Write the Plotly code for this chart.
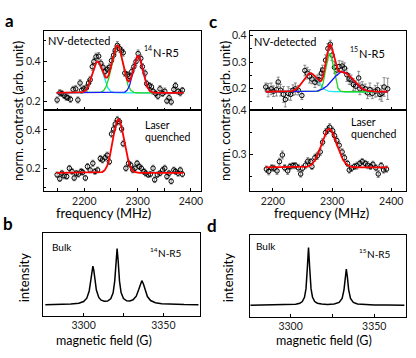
import numpy as np
import plotly.graph_objects as go

# ---------------- panel a : 14N-R5 ----------------
a_nv_freq = [2149, 2154, 2158, 2162, 2166, 2169, 2174, 2179, 2184, 2188,
             2192, 2195, 2199, 2204, 2208, 2211, 2215, 2218, 2222, 2227,
             2231, 2235, 2239, 2243, 2247, 2251, 2255, 2258, 2262, 2266,
             2270, 2273, 2276, 2281, 2284, 2289, 2293, 2297, 2301, 2306,
             2309, 2314, 2317, 2322, 2326, 2329, 2334, 2338, 2342, 2347,
             2351, 2355, 2359, 2363, 2368, 2371, 2376, 2380, 2384]
a_nv_val = [0.207, 0.242, 0.239, 0.229, 0.221, 0.218, 0.210, 0.259, 0.262, 0.207,
            0.291, 0.255, 0.262, 0.267, 0.291, 0.307, 0.372, 0.397, 0.421, 0.424,
            0.389, 0.369, 0.348, 0.359, 0.369, 0.402, 0.429, 0.454, 0.478, 0.462,
            0.450, 0.441, 0.340, 0.332, 0.324, 0.348, 0.372, 0.397, 0.437, 0.413,
            0.372, 0.340, 0.288, 0.278, 0.272, 0.250, 0.239, 0.226, 0.262, 0.239,
            0.250, 0.202, 0.218, 0.197, 0.259, 0.278, 0.250, 0.242, 0.255]
a_nv_err = [0.015, 0.016, 0.014, 0.015, 0.016, 0.014, 0.015, 0.016, 0.017, 0.015,
            0.016, 0.015, 0.016, 0.017, 0.016, 0.017, 0.018, 0.017, 0.018, 0.018,
            0.017, 0.016, 0.017, 0.016, 0.017, 0.018, 0.018, 0.019, 0.019, 0.018,
            0.018, 0.017, 0.016, 0.016, 0.016, 0.017, 0.017, 0.018, 0.018, 0.017,
            0.016, 0.016, 0.016, 0.015, 0.015, 0.015, 0.016, 0.015, 0.016, 0.015,
            0.016, 0.014, 0.015, 0.015, 0.016, 0.016, 0.015, 0.015, 0.014]

a_lq_freq = [2149, 2154, 2158, 2162, 2167, 2172, 2177, 2181, 2185, 2189,
             2194, 2197, 2202, 2206, 2211, 2216, 2220, 2225, 2230, 2234,
             2239, 2243, 2247, 2251, 2255, 2258, 2262, 2266, 2270, 2273,
             2278, 2283, 2287, 2291, 2295, 2299, 2303, 2307, 2312, 2315,
             2320, 2324, 2329, 2332, 2337, 2342, 2347, 2351, 2355, 2359,
             2363, 2368, 2371, 2376, 2380, 2384]
a_lq_val = [0.166, 0.145, 0.174, 0.161, 0.157, 0.200, 0.183, 0.149, 0.174, 0.169,
            0.183, 0.179, 0.149, 0.209, 0.191, 0.226, 0.183, 0.191, 0.251, 0.243,
            0.255, 0.268, 0.234, 0.379, 0.405, 0.431, 0.453, 0.443, 0.405, 0.328,
            0.200, 0.226, 0.217, 0.191, 0.200, 0.226, 0.209, 0.200, 0.183, 0.174,
            0.166, 0.169, 0.200, 0.140, 0.166, 0.174, 0.191, 0.200, 0.157, 0.174,
            0.132, 0.191, 0.183, 0.174, 0.191, 0.169]
a_lq_err = [0.015, 0.014, 0.015, 0.016, 0.014, 0.015, 0.016, 0.014, 0.015, 0.015,
            0.016, 0.015, 0.014, 0.016, 0.015, 0.016, 0.015, 0.015, 0.016, 0.015,
            0.016, 0.016, 0.015, 0.017, 0.017, 0.018, 0.018, 0.017, 0.017, 0.016,
            0.015, 0.016, 0.015, 0.015, 0.016, 0.015, 0.015, 0.016, 0.015, 0.015,
            0.014, 0.015, 0.016, 0.015, 0.015, 0.014, 0.015, 0.016, 0.015, 0.015,
            0.014, 0.015, 0.015, 0.016, 0.015, 0.014]

# Gaussian fit parameters
a_nv_fit_offset = 0.242
a_nv_fit_center = [2225, 2262, 2301]
a_nv_fit_amp = [0.155, 0.236, 0.184]
a_nv_fit_sigma = [10.0, 10.5, 9.0]
a_lq_fit_offset = 0.176
a_lq_fit_center = [2264]
a_lq_fit_amp = [0.280]
a_lq_fit_sigma = [10.5]
a_fit_span = [2148, 2386]

# ---------------- panel c : 15N-R5 ----------------
c_nv_freq = [2188, 2192, 2197, 2201, 2206, 2209, 2213, 2218, 2221, 2226,
             2230, 2234, 2238, 2243, 2249, 2254, 2258, 2262, 2266, 2271,
             2275, 2278, 2282, 2284, 2289, 2293, 2297, 2300, 2304, 2308,
             2312, 2317, 2321, 2325, 2329, 2332, 2336, 2340, 2345, 2347,
             2351, 2356, 2360, 2364, 2368, 2373, 2377, 2381, 2384, 2388,
             2394]
c_nv_val = [0.206, 0.194, 0.199, 0.190, 0.196, 0.225, 0.194, 0.178, 0.159, 0.182,
            0.178, 0.194, 0.199, 0.194, 0.174, 0.268, 0.258, 0.246, 0.236, 0.224,
            0.233, 0.233, 0.258, 0.270, 0.307, 0.351, 0.367, 0.326, 0.280, 0.270,
            0.283, 0.285, 0.277, 0.252, 0.236, 0.233, 0.215, 0.209, 0.240, 0.199,
            0.206, 0.199, 0.184, 0.196, 0.182, 0.190, 0.196, 0.178, 0.182, 0.206,
            0.199]
c_nv_err = [0.015, 0.025, 0.022, 0.020, 0.024, 0.018, 0.022, 0.030, 0.028, 0.025,
            0.022, 0.020, 0.022, 0.018, 0.015, 0.020, 0.022, 0.025, 0.018, 0.020,
            0.018, 0.022, 0.020, 0.018, 0.020, 0.018, 0.015, 0.020, 0.022, 0.020,
            0.022, 0.018, 0.020, 0.025, 0.020, 0.018, 0.022, 0.020, 0.025, 0.022,
            0.020, 0.018, 0.022, 0.025, 0.020, 0.022, 0.025, 0.020, 0.030, 0.035,
            0.040]

c_lq_freq = [2189, 2193, 2198, 2202, 2207, 2211, 2216, 2220, 2225, 2229,
             2234, 2238, 2243, 2247, 2250, 2255, 2259, 2264, 2266, 2271,
             2275, 2280, 2284, 2289, 2293, 2296, 2301, 2304, 2308, 2312,
             2317, 2321, 2326, 2329, 2333, 2338, 2342, 2347, 2351, 2356,
             2360, 2365, 2369, 2374, 2378, 2383, 2387, 2392]
c_lq_val = [0.267, 0.262, 0.270, 0.269, 0.263, 0.284, 0.299, 0.270, 0.263, 0.273,
            0.275, 0.275, 0.270, 0.256, 0.269, 0.276, 0.285, 0.284, 0.273, 0.293,
            0.297, 0.306, 0.328, 0.350, 0.356, 0.362, 0.354, 0.343, 0.332, 0.321,
            0.306, 0.293, 0.280, 0.265, 0.269, 0.273, 0.275, 0.280, 0.284, 0.280,
            0.276, 0.273, 0.278, 0.270, 0.256, 0.275, 0.265, 0.267]
c_lq_err = [0.007, 0.008, 0.007, 0.007, 0.008, 0.008, 0.009, 0.007, 0.008, 0.007,
            0.007, 0.007, 0.008, 0.007, 0.007, 0.008, 0.008, 0.007, 0.007, 0.008,
            0.008, 0.008, 0.008, 0.008, 0.008, 0.008, 0.008, 0.008, 0.008, 0.008,
            0.007, 0.007, 0.007, 0.007, 0.007, 0.007, 0.008, 0.007, 0.007, 0.007,
            0.008, 0.007, 0.007, 0.007, 0.008, 0.007, 0.007, 0.007]

c_nv_fit_offset = 0.188
c_nv_fit_center = [2263, 2296, 2318]
c_nv_fit_amp = [0.070, 0.144, 0.075]
c_nv_fit_sigma = [12.0, 6.5, 17.0]
c_lq_fit_offset = 0.271
c_lq_fit_center = [2295]
c_lq_fit_amp = [0.087]
c_lq_fit_sigma = [13.0]
c_fit_span = [2188, 2394]

# ---------------- panels b, d : bulk spectra ----------------
b_field = [3276, 3285, 3292, 3297, 3300, 3302, 3303.5, 3304.5, 3305.2, 3305.8,
           3306.4, 3307.1, 3308, 3309.5, 3311, 3313, 3315, 3317, 3318.5, 3319.5,
           3320.3, 3321, 3321.7, 3322.5, 3323.5, 3325, 3327, 3329, 3331, 3333,
           3334.5, 3335.5, 3336.5, 3337.5, 3338.5, 3340, 3342, 3345, 3349, 3355,
           3363, 3372]
b_int = [0.004, 0.007, 0.014, 0.029, 0.060, 0.122, 0.252, 0.443, 0.622, 0.700,
         0.623, 0.446, 0.270, 0.135, 0.086, 0.065, 0.070, 0.111, 0.220, 0.430,
         0.780, 1.019, 0.781, 0.430, 0.222, 0.114, 0.074, 0.071, 0.092, 0.158,
         0.273, 0.381, 0.438, 0.379, 0.269, 0.151, 0.079, 0.038, 0.020, 0.010,
         0.005, 0.003]
d_field = [3276, 3285, 3293, 3299, 3303, 3305.5, 3307, 3308.3, 3309.2, 3310,
           3310.7, 3311.4, 3312.2, 3313.1, 3314.4, 3316, 3318.5, 3322, 3326, 3329,
           3330.8, 3331.9, 3332.7, 3333.3, 3333.9, 3334.7, 3335.8, 3337.5, 3340, 3344,
           3350, 3358, 3368]
d_int = [0.001, 0.002, 0.003, 0.007, 0.016, 0.033, 0.063, 0.137, 0.288, 0.649,
         1.001, 0.650, 0.288, 0.138, 0.064, 0.034, 0.019, 0.014, 0.020, 0.048,
         0.119, 0.267, 0.502, 0.627, 0.502, 0.267, 0.119, 0.049, 0.021, 0.009,
         0.004, 0.002, 0.001]

# ---------------- layout helpers ----------------
W, H = 416, 358
FONT = "Lato, 'Open Sans', sans-serif"
comp_colors = ["#19e6f0", "#22d422", "#1a1aff"]


def px(xp):
    return xp / W


def py(yp):
    return 1 - yp / H


def gauss(x, c, a, s):
    return a * np.exp(-0.5 * ((x - c) / s) ** 2)


fig = go.Figure()


def add_panel(xa, ya, freq, val, err, off, cen, amp, sig, span, show_comp):
    fig.add_trace(go.Scatter(
        x=freq, y=val, mode="markers", xaxis=xa, yaxis=ya,
        marker=dict(symbol="circle-open", size=4.5, color="black", line=dict(width=1)),
        error_y=dict(type="data", array=err, color="#707070", thickness=0.8, width=1.5),
        showlegend=False))
    xf = np.linspace(span[0], span[1], 600)
    if show_comp:
        for i in range(len(cen)):
            fig.add_trace(go.Scatter(
                x=xf, y=off + gauss(xf, cen[i], amp[i], sig[i]), mode="lines",
                xaxis=xa, yaxis=ya, line=dict(color=comp_colors[i], width=1.3),
                showlegend=False, hoverinfo="skip"))
    tot = off + sum(gauss(xf, cen[i], amp[i], sig[i]) for i in range(len(cen)))
    fig.add_trace(go.Scatter(x=xf, y=tot, mode="lines", xaxis=xa, yaxis=ya,
                             line=dict(color="#ff0000", width=1.8),
                             showlegend=False, hoverinfo="skip"))


add_panel("x", "y", a_nv_freq, a_nv_val, a_nv_err, a_nv_fit_offset, a_nv_fit_center,
          a_nv_fit_amp, a_nv_fit_sigma, a_fit_span, True)
add_panel("x2", "y2", a_lq_freq, a_lq_val, a_lq_err, a_lq_fit_offset, a_lq_fit_center,
          a_lq_fit_amp, a_lq_fit_sigma, a_fit_span, False)
add_panel("x3", "y3", c_nv_freq, c_nv_val, c_nv_err, c_nv_fit_offset, c_nv_fit_center,
          c_nv_fit_amp, c_nv_fit_sigma, c_fit_span, True)
add_panel("x4", "y4", c_lq_freq, c_lq_val, c_lq_err, c_lq_fit_offset, c_lq_fit_center,
          c_lq_fit_amp, c_lq_fit_sigma, c_fit_span, False)

fig.add_trace(go.Scatter(x=b_field, y=b_int, mode="lines", xaxis="x5", yaxis="y5",
                         line=dict(color="black", width=1.5), showlegend=False))
fig.add_trace(go.Scatter(x=d_field, y=d_int, mode="lines", xaxis="x6", yaxis="y6",
                         line=dict(color="black", width=1.5), showlegend=False))


def axis(dom, rng, anchor, labels=True, dtick=None, tick0=None, minor=None, fmt=None,
         standoff=None, noticks=False):
    d = dict(domain=dom, range=rng, anchor=anchor, showline=True, linecolor="black",
             linewidth=1.2, mirror=True, ticks="" if noticks else "inside", ticklen=3,
             tickwidth=1, tickcolor="black", showgrid=False, zeroline=False,
             showticklabels=labels,
             tickfont=dict(family=FONT, size=10.5, color="#222"))
    if dtick is not None:
        d.update(dtick=dtick, tick0=tick0, tickmode="linear")
    if minor is not None:
        d["minor"] = dict(dtick=minor, ticks="inside", ticklen=2.5, tickcolor="black",
                          showgrid=False)
    if fmt:
        d["tickformat"] = fmt
    if standoff is not None:
        d["ticklabelstandoff"] = standoff
    return d


xa_dom = [px(44), px(202)]
xc_dom = [px(251), px(408)]
y_up = [py(106), py(25)]
y_lo = [py(188), py(106)]

layout = dict(
    width=W, height=H, margin=dict(l=0, r=0, t=0, b=0),
    paper_bgcolor="white", plot_bgcolor="white",
    xaxis=axis(xa_dom, [2124, 2419], "y", False, 100, 2200, 50),
    yaxis=axis(y_up, [0.156, 0.551], "x", True, 0.2, 0.2, 0.1, ".1f"),
    xaxis2=axis(xa_dom, [2124, 2419], "y2", True, 100, 2200, 50),
    yaxis2=axis(y_lo, [0.082, 0.503], "x2", True, 0.2, 0.2, 0.1, ".1f"),
    xaxis3=axis(xc_dom, [2161, 2425], "y3", False, 100, 2200, 50),
    yaxis3=axis(y_up, [0.1185, 0.4185], "x3", True, 0.1, 0.2, 0.05, ".1f"),
    xaxis4=axis(xc_dom, [2161, 2425], "y4", True, 100, 2200, 50),
    yaxis4=axis(y_lo, [0.2178, 0.4005], "x4", True, 0.1, 0.2, 0.05, ".1f"),
    xaxis5=axis([px(43), px(201)], [3274.4, 3373], "y5", True, 50, 3300, 25, standoff=0),
    yaxis5=axis([py(315), py(231)], [-0.196, 1.299], "x5", False, noticks=True),
    xaxis6=axis(xc_dom, [3275.6, 3369], "y6", True, 50, 3300, 25, standoff=0),
    yaxis6=axis([py(316), py(233)], [-0.2, 1.219], "x6", False, noticks=True),
)
fig.update_layout(**layout)

anns = []


def ann(text, x, y, size, xanchor="left", angle=0, bold=False, yanchor="middle"):
    anns.append(dict(text=("<b>%s</b>" % text) if bold else text, x=px(x), y=py(y),
                     xref="paper", yref="paper", showarrow=False, xanchor=xanchor,
                     yanchor=yanchor, textangle=angle, borderpad=0,
                     font=dict(family=FONT, size=size, color="black")))


# panel letters
ann("a", 10, 15, 17, "center", bold=True)
ann("b", 8, 221, 17, "center", bold=True)
ann("c", 214, 16, 17, "center", bold=True)
ann("d", 213, 223, 17, "center", bold=True)
# inset texts
ann("NV-detected", 47, 35, 11)
ann("14", 144, 43, 7)
ann("N-R5", 152.5, 47, 11)
ann("Laser", 145, 121, 10.5)
ann("quenched", 145, 133, 10.5)
ann("NV-detected", 254, 36, 11)
ann("15", 351, 44, 7)
ann("N-R5", 359.5, 48, 11)
ann("Laser", 352, 118, 10.5)
ann("quenched", 352, 130, 10.5)
ann("Bulk", 51, 245, 10)
ann("14", 149.5, 247.5, 6.5)
ann("N-R5", 157.5, 251, 10)
ann("Bulk", 256, 244, 10)
ann("15", 359.5, 248.5, 6.5)
ann("N-R5", 367.5, 252, 10)
# axis titles
ann("norm. contrast (arb. unit)", 18, 107, 13, "center", angle=-90)
ann("norm. contrast (arb. unit)", 226, 107, 13, "center", angle=-90)
ann("frequency (MHz)", 104, 211, 13, "center")
ann("frequency (MHz)", 323, 211, 13, "center")
ann("intensity", 24, 276, 13, "center", angle=-90)
ann("intensity", 229, 276, 13, "center", angle=-90)
ann("magnetic field (G)", 105, 340, 12.5, "center")
ann("magnetic field (G)", 326, 340, 12.5, "center")

fig.update_layout(annotations=anns)
fig.write_html("out.html",
               config={"displayModeBar": False},
               post_script="document.body.style.margin='0';"
                           "document.body.style.overflow='hidden';")
